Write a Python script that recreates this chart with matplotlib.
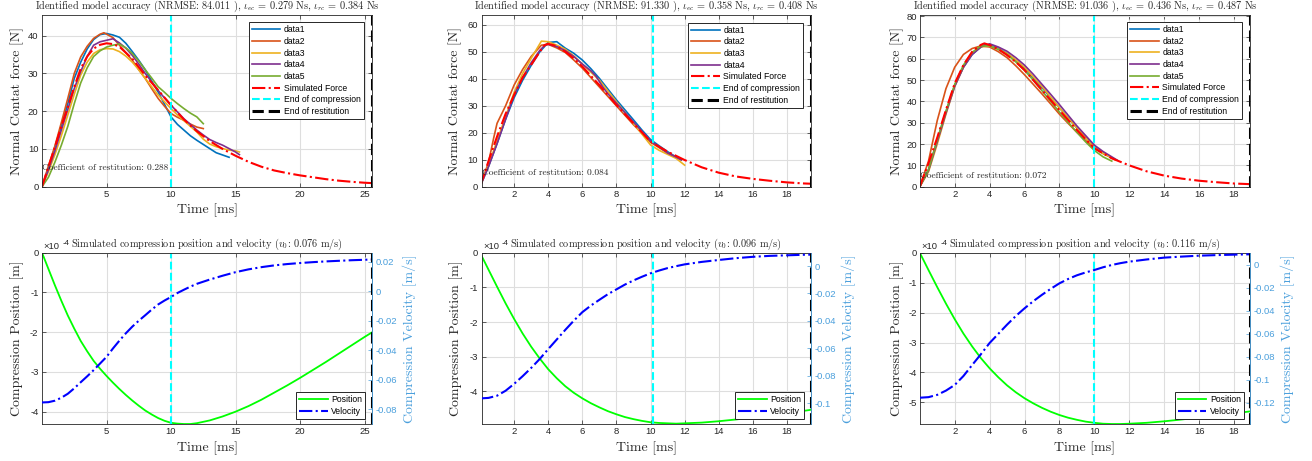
import matplotlib
matplotlib.use("Agg")
import matplotlib.pyplot as plt
from matplotlib.ticker import FuncFormatter

# ---------------- DATA ----------------
# Panel A (top-left)
a_d1_t = [0, 0.5, 1, 1.5, 2, 2.5, 3, 3.5, 4, 4.5, 5, 5.5, 6, 6.5, 7, 7.5, 8, 8.5, 9, 9.5, 10, 10.5, 11, 11.5, 12, 12.5, 13, 13.5, 14, 14.5]
a_d1_f = [0, 5, 10.5, 16, 22, 28.7, 33, 36.5, 39, 40.3, 40.6, 40.2, 39.6, 38, 35.8, 33.5, 31, 28, 25.1, 21.8, 18.5, 16.5, 15, 13.5, 12.3, 11.2, 10.1, 9, 8.4, 7.8]
a_d2_t = [0, 0.5, 1, 1.5, 2, 2.5, 3, 3.5, 4, 4.5, 4.8, 5.5, 6, 6.5, 7, 7.5, 8, 8.5, 9, 9.5, 10, 10.5, 11, 11.5, 12, 12.5]
a_d2_f = [0, 5.5, 10.8, 17, 23.4, 30, 34.4, 37.2, 39.3, 40.4, 40.8, 39.5, 37.5, 35.5, 33.5, 31, 28.7, 26, 23.4, 21.3, 19.4, 18.4, 17.6, 16.6, 15.8, 15.4]
a_d3_t = [0, 0.5, 1, 1.5, 2, 2.5, 3, 3.5, 4, 4.5, 5, 5.5, 6, 6.5, 7, 7.5, 8, 8.5, 9, 9.5, 10, 10.5, 11, 11.5, 12, 12.5, 13, 13.5, 14, 14.5, 15, 15.3]
a_d3_f = [0, 4, 8.5, 13.5, 19, 24.5, 29.6, 33, 35.3, 36.3, 36.6, 36.5, 35.8, 34.6, 33, 31, 28.7, 26.5, 24.3, 22.5, 20.7, 19, 17.5, 16, 14.5, 12.6, 11.3, 10.6, 10.1, 9.7, 9.5, 9.2]
a_d4_t = [0, 0.5, 1, 1.5, 2, 2.5, 3, 3.5, 4, 4.5, 5, 5.5, 6, 6.5, 7, 7.5, 8, 8.5, 9, 9.5, 10, 10.5, 11, 11.5, 12, 12.5, 13, 13.5, 14, 14.5, 15, 15.3]
a_d4_f = [0, 4.5, 9.5, 15, 20.5, 26, 30.5, 34.5, 37.5, 38.4, 38.8, 39.2, 38.1, 36.7, 34.8, 32.5, 30, 27.8, 25.5, 23.5, 21.6, 19.8, 18, 16.5, 15, 13.7, 12.5, 11.7, 11, 10.1, 9.2, 8.5]
a_d5_t = [0, 0.5, 1, 1.5, 2, 2.5, 3, 3.5, 4, 4.5, 5, 5.5, 6, 6.5, 7, 7.5, 8, 8.5, 9, 9.5, 10, 10.5, 11, 11.5, 12, 12.5]
a_d5_f = [0, 2.5, 6.5, 11, 16, 22, 27.5, 31.5, 34.5, 36, 37, 37.5, 37.8, 36.8, 35.3, 33.3, 31, 28.8, 26.5, 25, 23.4, 22, 20.7, 19.5, 18.5, 16.7]
a_sim_t = [0, 0.5, 1, 1.5, 2, 2.5, 3, 3.5, 4, 4.5, 5, 5.5, 6, 7, 8, 9, 10, 11, 12, 13, 14, 15, 16, 17, 18, 19, 20, 21, 22, 23, 24, 25, 25.6]
a_sim_f = [0, 5.3, 10.5, 16, 21, 26.5, 31.3, 34.5, 36.6, 37.6, 38, 37.8, 37.1, 33.9, 29.5, 25.6, 21.6, 17.8, 14.7, 12.1, 10.0, 8.2, 6.6, 5.3, 4.3, 3.6, 3.0, 2.5, 2.0, 1.6, 1.3, 1.05, 0.95]

# Panel B (top-middle)
b_d1_t = [0, 0.5, 1, 1.5, 2, 2.5, 3, 3.5, 4, 4.5, 5, 5.5, 6, 6.5, 7, 7.5, 8, 8.5, 9, 9.5, 10, 10.5, 11, 11.5, 11.8]
b_d1_f = [0, 7.5, 16, 25, 33, 39.5, 45, 50, 53.5, 53.8, 51.4, 49.5, 47, 43.8, 40.2, 36.2, 32.2, 28.5, 24.8, 21, 17.5, 15.2, 13, 11, 10]
b_d2_t = [0, 0.5, 0.8, 1, 1.5, 2, 2.5, 3, 3.6, 4, 4.5, 5, 5.5, 6, 6.5, 7, 7.5, 8, 8.5, 9, 9.5, 10, 10.5, 11, 11.5, 11.8]
b_d2_f = [0, 9, 18, 23.5, 30, 37.7, 43.5, 48.3, 52.5, 52.8, 51.5, 49.8, 47, 44, 40.5, 37, 33.5, 30, 26.5, 23, 19.8, 16.5, 14.5, 12.5, 11, 10]
b_d3_t = [0, 0.5, 1, 1.5, 2, 2.5, 3, 3.6, 4, 4.5, 5, 5.5, 6, 6.5, 7, 7.5, 8, 8.5, 9, 9.5, 10, 10.5, 11, 11.5, 12]
b_d3_f = [0, 8, 17, 26, 35, 42, 47.6, 54.0, 53.8, 52.5, 51, 48.5, 45.5, 42.5, 39.5, 35.5, 31.5, 27.5, 23.5, 19.5, 15.5, 13.5, 12, 10.5, 8]
b_d4_t = [0, 0.5, 1, 1.5, 2, 2.5, 3, 3.5, 3.8, 4, 4.5, 5, 5.5, 6, 6.5, 6.8, 7, 7.2, 7.5, 8, 8.5, 9, 9.5, 10, 10.5, 11, 11.5, 11.8]
b_d4_f = [0, 7.5, 16, 25, 34, 40.5, 46, 50.5, 52.5, 52.8, 52, 50.5, 48.3, 45.5, 43, 41, 39, 37, 34.5, 31, 27.5, 24, 20.5, 17, 14.8, 12.5, 11, 10]
b_sim_t = [0, 0.5, 1, 1.5, 2, 2.5, 3, 3.5, 3.8, 4, 4.5, 5, 5.5, 6, 7, 8, 9, 10, 11, 12, 13, 14, 15, 16, 17, 18, 19, 19.41]
b_sim_f = [0, 9.5, 18.6, 27, 34, 40.5, 45.2, 50, 52.6, 53, 52.2, 50.1, 47.6, 44.6, 37.7, 30.3, 23.5, 16.7, 13, 9.9, 7.2, 5.2, 3.8, 2.9, 2.2, 1.6, 1.2, 1.1]

# Panel C (top-right)
c_d1_t = [0, 0.5, 1, 1.5, 2, 2.5, 3, 3.5, 3.7, 4, 4.5, 5, 5.5, 6, 6.5, 7, 7.5, 8, 8.5, 9, 9.5, 10, 10.5, 11]
c_d1_f = [0, 8, 22, 35, 47.5, 56, 62, 65.5, 66.5, 66.5, 64.8, 62.5, 59.2, 55.5, 51, 46.5, 41.7, 37, 32.2, 27.5, 23, 19, 16, 13.5]
c_d2_t = [0, 0.5, 1, 1.5, 2, 2.5, 3, 3.5, 4, 4.5, 5, 5.5, 6, 6.5, 7, 7.5, 8, 8.5, 9, 9.5, 10, 10.5, 11]
c_d2_f = [0, 12, 31, 46, 56, 62, 64.8, 66, 65.5, 63.3, 60.5, 56.7, 52.5, 48, 43.5, 38.8, 34, 29.7, 25.5, 21.7, 18, 15.5, 13.5]
c_d3_t = [0, 0.5, 1, 1.5, 2, 2.5, 3, 3.5, 4, 4.5, 5, 5.5, 6, 6.5, 7, 7.5, 8, 8.5, 9, 9.5, 10, 10.5, 11, 11.2]
c_d3_f = [0, 7, 20, 34, 47, 56, 62.5, 65.5, 66, 64.5, 62.5, 59.5, 56, 51.5, 47, 42, 37, 32.2, 27.5, 23, 18.5, 15.7, 13.5, 12.5]
c_d4_t = [0, 0.5, 1, 1.5, 2, 2.5, 3, 3.5, 4, 4.5, 5, 5.5, 6, 6.5, 7, 7.5, 8, 8.5, 9, 9.5, 10, 10.5, 11, 11.3]
c_d4_f = [0, 7.5, 21, 34.5, 47, 56, 62, 65.5, 67, 65.5, 63.5, 60.5, 57, 52.7, 48, 43.3, 38.5, 33.5, 28.5, 24, 19.5, 16.5, 14, 12.5]
c_d5_t = [0, 0.5, 1, 1.5, 2, 2.5, 3, 3.5, 4, 4.5, 5, 5.5, 6, 6.5, 7, 7.5, 8, 8.5, 9, 9.5, 10, 10.5, 11]
c_d5_f = [0, 8, 22, 35.5, 48, 57, 63, 66, 66, 64.3, 62, 58.5, 54.5, 50, 45, 40, 35, 30.2, 25.5, 21, 17, 14, 12]
c_sim_t = [0, 0.5, 1, 1.5, 2, 2.5, 3, 3.5, 3.7, 4, 4.5, 5, 5.5, 6, 7, 8, 9, 10, 11, 12, 13, 14, 15, 16, 17, 18, 18.9]
c_sim_f = [0, 11, 23, 36, 48.4, 57, 63.3, 66.5, 67.2, 66.4, 64.5, 61.7, 58.5, 54.7, 45.3, 35.9, 26.6, 18, 13.3, 10, 7.2, 5.2, 3.8, 2.8, 2.1, 1.5, 1.2]

# Panel D (bottom-left): position [x1e-4 m], velocity [m/s]
d_t = [0, 0.5, 1, 1.5, 2, 2.5, 3, 3.5, 4, 4.5, 5, 5.5, 6, 6.5, 7, 7.5, 8, 8.5, 9, 9.5, 10, 10.5, 11, 11.5, 12, 13, 14, 15, 16, 17, 18, 19, 20, 21, 22, 23, 24, 25, 25.6]
d_pos = [0, -0.41, -0.82, -1.21, -1.58, -1.91, -2.22, -2.48, -2.72, -2.92, -3.1, -3.27, -3.43, -3.58, -3.72, -3.85, -3.97, -4.07, -4.16, -4.23, -4.28, -4.3, -4.31, -4.31, -4.29, -4.22, -4.12, -4.0, -3.86, -3.7, -3.52, -3.34, -3.15, -2.95, -2.75, -2.54, -2.33, -2.12, -2.0]
d_vel = [-0.0754, -0.0752, -0.0742, -0.0722, -0.0695, -0.0658, -0.0617, -0.0577, -0.0535, -0.0490, -0.0445, -0.0388, -0.0335, -0.0285, -0.0240, -0.0200, -0.0163, -0.0125, -0.0090, -0.0063, -0.0039, -0.0012, 0.0010, 0.0031, 0.0050, 0.0079, 0.0105, 0.0129, 0.0148, 0.0163, 0.0175, 0.0184, 0.0191, 0.0197, 0.0202, 0.0206, 0.0210, 0.0213, 0.0215]

# Panel E (bottom-middle)
e_t = [0, 0.5, 1, 1.5, 2, 2.5, 3, 3.5, 4, 4.5, 5, 5.5, 6, 6.5, 7, 7.5, 8, 8.5, 9, 9.5, 10, 10.5, 11, 11.5, 12, 13, 14, 15, 16, 17, 18, 19, 19.41]
e_pos = [0, -0.49, -0.98, -1.46, -1.91, -2.33, -2.71, -3.05, -3.36, -3.62, -3.85, -4.04, -4.2, -4.34, -4.46, -4.57, -4.66, -4.74, -4.8, -4.85, -4.89, -4.91, -4.92, -4.93, -4.92, -4.9, -4.86, -4.81, -4.75, -4.69, -4.63, -4.56, -4.53]
e_vel = [-0.0964, -0.0960, -0.0944, -0.0908, -0.0858, -0.0802, -0.0742, -0.0677, -0.0605, -0.0535, -0.0465, -0.0398, -0.0336, -0.0288, -0.0246, -0.0205, -0.0170, -0.0135, -0.0105, -0.0078, -0.0053, -0.0033, -0.0015, -0.0001, 0.0012, 0.0030, 0.0044, 0.0057, 0.0067, 0.0074, 0.0078, 0.0082, 0.0083]

# Panel F (bottom-right)
f_t = [0, 0.5, 1, 1.5, 2, 2.5, 3, 3.5, 4, 4.5, 5, 5.5, 6, 6.5, 7, 7.5, 8, 8.5, 9, 9.5, 10, 10.5, 11, 11.5, 12, 13, 14, 15, 16, 17, 18, 18.9]
f_pos = [0, -0.58, -1.15, -1.7, -2.22, -2.7, -3.13, -3.52, -3.86, -4.16, -4.43, -4.66, -4.86, -5.03, -5.18, -5.31, -5.42, -5.51, -5.58, -5.64, -5.68, -5.71, -5.72, -5.72, -5.71, -5.68, -5.63, -5.57, -5.5, -5.43, -5.37, -5.3]
f_vel = [-0.1157, -0.1152, -0.1132, -0.1095, -0.1046, -0.0968, -0.0872, -0.0778, -0.0680, -0.0600, -0.0520, -0.0445, -0.0378, -0.0316, -0.0260, -0.0208, -0.0160, -0.0122, -0.0090, -0.0065, -0.0044, -0.0020, 0.0000, 0.0016, 0.0029, 0.0048, 0.0064, 0.0073, 0.0081, 0.0086, 0.0090, 0.0093]

series_labels = ["data1", "data2", "data3", "data4", "data5"]
series_colors = ["#0072BD", "#D95319", "#EDB120", "#7E2F8E", "#77AC30"]

top_titles = [
    r"Identified model accuracy (NRMSE: 84.011 ), $\iota_{ec}$ = 0.279 Ns, $\iota_{rc}$ = 0.384 Ns",
    r"Identified model accuracy (NRMSE: 91.330 ), $\iota_{ec}$ = 0.358 Ns, $\iota_{rc}$ = 0.408 Ns",
    r"Identified model accuracy (NRMSE: 91.036 ), $\iota_{ec}$ = 0.436 Ns, $\iota_{rc}$ = 0.487 Ns",
]
cor_texts = ["Coefficient of restitution: 0.288", "Coefficient of restitution: 0.084",
             "Coefficient of restitution: 0.072"]
bottom_titles = [
    r"Simulated compression position and velocity ($v_0$: 0.076 m/s)",
    r"Simulated compression position and velocity ($v_0$: 0.096 m/s)",
    r"Simulated compression position and velocity ($v_0$: 0.116 m/s)",
]
t_compression = [10.0, 10.12, 10.0]
xlims = [(0.0, 25.6), (0.1, 19.41), (0.03, 18.9)]
top_ylims = [(0, 45.5), (0, 63.7), (0, 80.5)]
top_yticks = [[0, 10, 20, 30, 40], [0, 10, 20, 30, 40, 50, 60], [0, 10, 20, 30, 40, 50, 60, 70, 80]]
xticks_list = [[5, 10, 15, 20, 25], [2, 4, 6, 8, 10, 12, 14, 16, 18], [2, 4, 6, 8, 10, 12, 14, 16, 18]]
pos_ylims = [(-4.31, 0), (-4.94, 0), (-5.72, 0)]
pos_yticks = [[-4, -3, -2, -1, 0], [-4, -3, -2, -1, 0], [-5, -4, -3, -2, -1, 0]]
vel_ylims = [(-0.090, 0.0261), (-0.115, 0.0097), (-0.1386, 0.0107)]
vel_yticks = [[-0.08, -0.06, -0.04, -0.02, 0, 0.02],
              [-0.1, -0.08, -0.06, -0.04, -0.02, 0],
              [-0.12, -0.1, -0.08, -0.06, -0.04, -0.02, 0]]

# ---------------- STYLE ----------------
plt.rcParams["font.family"] = ["Liberation Sans", "DejaVu Sans"]
plt.rcParams["mathtext.fontset"] = "cm"
plt.rcParams["axes.unicode_minus"] = False
SERIF = ["cmr10", "DejaVu Serif"]
AX_COL = "#262626"
GRID_COL = "#dedede"
VEL_AX_COL = "#4a9fdc"
TICK_FS = 6.8
LEG_FS = 6.2
LABEL_FS = 10

W, H = 1312, 461
fig = plt.figure(figsize=(W / 100, H / 100), dpi=100)


def add_ax(l, t, r, b):
    return fig.add_axes([l / W, 1 - b / H, (r - l) / W, (b - t) / H])


fmt = FuncFormatter(lambda v, p: f"{v:g}")

lefts = [(42, 372.3), (481.7, 811), (920.3, 1249.7)]
ylabel_x = [-0.0756, -0.081, -0.0707]
ylabel_x_bot = [-0.075, -0.076, -0.071]
top_legend_anchor = [(0.974, 0.957), (0.976, 0.955), (0.977, 0.959)]
bot_legend_anchor = [(0.979, 0.029), (0.979, 0.029), (0.982, 0.029)]

top_data = [
    [(a_d1_t, a_d1_f), (a_d2_t, a_d2_f), (a_d3_t, a_d3_f), (a_d4_t, a_d4_f), (a_d5_t, a_d5_f)],
    [(b_d1_t, b_d1_f), (b_d2_t, b_d2_f), (b_d3_t, b_d3_f), (b_d4_t, b_d4_f)],
    [(c_d1_t, c_d1_f), (c_d2_t, c_d2_f), (c_d3_t, c_d3_f), (c_d4_t, c_d4_f), (c_d5_t, c_d5_f)],
]
top_sim = [(a_sim_t, a_sim_f), (b_sim_t, b_sim_f), (c_sim_t, c_sim_f)]
bot_data = [(d_t, d_pos, d_vel), (e_t, e_pos, e_vel), (f_t, f_pos, f_vel)]


def base_style(ax):
    for s in ax.spines.values():
        s.set_color(AX_COL)
        s.set_linewidth(0.6)
    ax.tick_params(direction="in", length=3, width=0.5, labelsize=TICK_FS,
                   colors=AX_COL, pad=2.5)
    ax.grid(True, color=GRID_COL, linewidth=0.8)
    ax.set_axisbelow(True)


leg_kw = dict(borderaxespad=0, fontsize=LEG_FS, handlelength=3.3,
              handletextpad=0.4, labelspacing=0.31, borderpad=0.35,
              fancybox=False, framealpha=1, edgecolor=AX_COL)

for i in range(3):
    l, r = lefts[i]
    # ---------- top panel ----------
    ax = add_ax(l, 15, r, 186.7)
    base_style(ax)
    ax.tick_params(top=True, right=True)
    for k, (tt, ff) in enumerate(top_data[i]):
        ax.plot(tt, ff, color=series_colors[k], lw=1.2, label=series_labels[k])
    st, sf = top_sim[i]
    ax.plot(st, sf, color="red", ls="-.", lw=1.5, label="Simulated Force")
    ax.axvline(t_compression[i], color="cyan", ls="--", lw=1.5, label="End of compression")
    ax.axvline(xlims[i][1], color="black", ls="--", lw=2.2, label="End of restitution")
    ax.set_xlim(*xlims[i])
    ax.set_ylim(*top_ylims[i])
    ax.set_xticks(xticks_list[i])
    ax.set_yticks(top_yticks[i])
    ax.xaxis.set_major_formatter(fmt)
    ax.yaxis.set_major_formatter(fmt)
    ax.set_xlabel("Time [ms]", family=SERIF, fontsize=LABEL_FS, color=AX_COL)
    ax.xaxis.label.set_va("center")
    ax.xaxis.set_label_coords(0.5, -0.137)
    ax.set_ylabel("Normal Contat force [N]", family=SERIF, fontsize=LABEL_FS, color=AX_COL)
    ax.yaxis.label.set_va("center")
    ax.yaxis.set_label_coords(ylabel_x[i], 0.5)
    ax.text(0.5, 1.035, top_titles[i], transform=ax.transAxes, ha="center",
            va="baseline", family=SERIF, fontsize=7.4, color=AX_COL)
    ax.text(xlims[i][0], 5, cor_texts[i], ha="left", va="center",
            family=SERIF, fontsize=6.8, color=AX_COL)
    leg = ax.legend(loc="upper right", bbox_to_anchor=top_legend_anchor[i], **leg_kw)
    leg.get_frame().set_linewidth(0.7)

    # ---------- bottom panel ----------
    bx = add_ax(l, 252.7, r, 424)
    base_style(bx)
    bx.tick_params(top=True, right=False)
    bt, bp, bv = bot_data[i]
    lp, = bx.plot(bt, bp, color="#00ff00", lw=1.3, label="Position")
    bx.axvline(t_compression[i], color="cyan", ls="--", lw=1.5)
    bx.set_xlim(*xlims[i])
    bx.set_ylim(*pos_ylims[i])
    bx.set_xticks(xticks_list[i])
    bx.set_yticks(pos_yticks[i])
    bx.xaxis.set_major_formatter(fmt)
    bx.yaxis.set_major_formatter(fmt)
    bx.set_xlabel("Time [ms]", family=SERIF, fontsize=LABEL_FS, color=AX_COL)
    bx.xaxis.label.set_va("center")
    bx.xaxis.set_label_coords(0.5, -0.142)
    bx.set_ylabel("Compression Position [m]", family=SERIF, fontsize=LABEL_FS, color=AX_COL)
    bx.yaxis.label.set_va("center")
    bx.yaxis.set_label_coords(ylabel_x_bot[i], 0.5)
    bx.text(0.5, 1.036, bottom_titles[i], transform=bx.transAxes, ha="center",
            va="baseline", family=SERIF, fontsize=7.4, color=AX_COL)
    bx.text(0.004, 1.02, "×10", transform=bx.transAxes, ha="left", va="baseline",
            fontsize=6.8, color=AX_COL)
    bx.text(0.062, 1.045, "-4", transform=bx.transAxes, ha="left", va="baseline",
            fontsize=5.6, color=AX_COL)

    vx = bx.twinx()
    vx.set_position(bx.get_position())
    lv, = vx.plot(bt, bv, color="blue", ls="-.", lw=1.5, label="Velocity")
    vx.axvline(xlims[i][1], color="black", ls="--", lw=2.2)
    vx.set_ylim(*vel_ylims[i])
    vx.set_yticks(vel_yticks[i])
    vx.yaxis.set_major_formatter(fmt)
    vx.tick_params(axis="y", direction="in", length=3, width=0.5, labelsize=TICK_FS,
                   colors=VEL_AX_COL, pad=2.5)
    for s in ["top", "bottom", "left"]:
        vx.spines[s].set_visible(False)
    vx.spines["right"].set_color(VEL_AX_COL)
    vx.spines["right"].set_linewidth(0.6)
    vx.set_ylabel("Compression Velocity [m/s]", family=SERIF, fontsize=LABEL_FS,
                  color=VEL_AX_COL)
    vx.yaxis.label.set_va("center")
    vx.yaxis.set_label_coords(1.115, 0.5)
    leg2 = vx.legend([lp, lv], ["Position", "Velocity"], loc="lower right",
                     bbox_to_anchor=bot_legend_anchor[i], **leg_kw)
    leg2.get_frame().set_linewidth(0.7)

fig.savefig("out.png", dpi=100)
